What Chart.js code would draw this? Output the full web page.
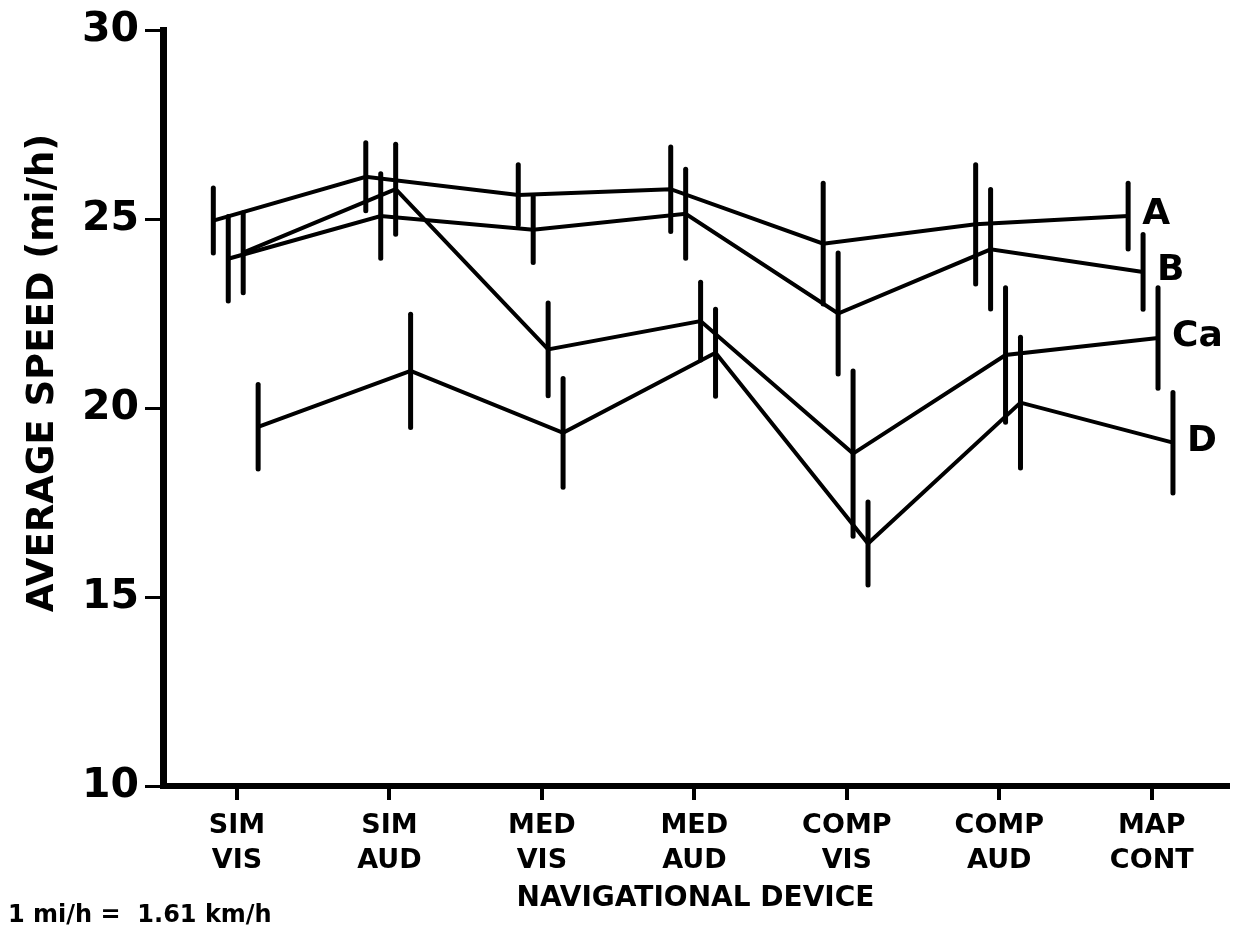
<!DOCTYPE html>
<html>
<head>
<meta charset="utf-8">
<script src="https://cdn.jsdelivr.net/npm/chart.js@4/dist/chart.umd.min.js"></script>
<style>
  html, body { margin: 0; padding: 0; background: #fff; }
  #wrap { width: 1235px; height: 927px; position: relative; }
</style>
</head>
<body>
<div id="wrap"><canvas id="c"></canvas></div>
<script>
// ---- data ----
const categoriesTop    = ['SIM', 'SIM', 'MED', 'MED', 'COMP', 'COMP', 'MAP'];
const categoriesBottom = ['VIS', 'AUD', 'VIS', 'AUD', 'VIS', 'AUD', 'CONT'];
const seriesNames = ['A', 'B', 'Ca', 'D'];

const speedA  = [24.97, 26.13, 25.65, 25.80, 24.36, 24.87, 25.09];
const errA    = [0.86, 0.90, 0.80, 1.12, 1.60, 1.58, 0.87];
const speedB  = [23.96, 25.09, 24.73, 25.15, 22.51, 24.21, 23.61];
const errB    = [1.12, 1.12, 0.87, 1.18, 1.60, 1.58, 0.99];
const speedCa = [24.12, 25.80, 21.56, 22.31, 18.80, 21.41, 21.86];
const errCa   = [1.06, 1.19, 1.23, 1.03, 2.19, 1.78, 1.33];
const speedD  = [19.51, 20.99, 19.35, 21.47, 16.42, 20.15, 19.09];
const errD    = [1.12, 1.50, 1.44, 1.15, 1.10, 1.73, 1.33];

const yTickValues = [10, 15, 20, 25, 30];
const yAxisTitle = 'AVERAGE SPEED (mi/h)';
const xAxisTitle = 'NAVIGATIONAL DEVICE';
const footnote = '1 mi/h =  1.61 km/h';

// ---- presentation ----
const seriesValues = [speedA, speedB, speedCa, speedD];
const seriesErrors = [errA, errB, errCa, errD];
const seriesOffset = [-0.155, -0.057, 0.041, 0.139]; // horizontal stagger (category units)
const FONT = "'DejaVu Sans', 'Liberation Sans', sans-serif";

const datasets = seriesValues.map((vals, k) => ({
  label: seriesNames[k],
  data: vals.map((v, i) => ({ x: i + seriesOffset[k], y: v })),
  showLine: true,
  borderColor: '#000',
  backgroundColor: '#000',
  borderWidth: 4,
  pointRadius: 0,
  pointHoverRadius: 0,
  tension: 0,
  errors: seriesErrors[k]
}));

const extrasPlugin = {
  id: 'extras',
  afterDatasetsDraw(chart) {
    const ctx = chart.ctx;
    const xs = chart.scales.x, ys = chart.scales.y;
    ctx.save();
    ctx.strokeStyle = '#000';
    ctx.lineWidth = 5;
    ctx.lineCap = 'round';
    chart.data.datasets.forEach((ds) => {
      ds.data.forEach((p, i) => {
        const e = ds.errors[i];
        const px = xs.getPixelForValue(p.x);
        ctx.beginPath();
        ctx.moveTo(px, ys.getPixelForValue(p.y - e));
        ctx.lineTo(px, ys.getPixelForValue(p.y + e));
        ctx.stroke();
      });
      // series label at the end of the line
      const last = ds.data[ds.data.length - 1];
      ctx.fillStyle = '#000';
      ctx.font = 'bold 36px ' + FONT;
      ctx.textAlign = 'left';
      ctx.textBaseline = 'middle';
      ctx.fillText(ds.label, xs.getPixelForValue(last.x) + 14, ys.getPixelForValue(last.y) - 1);
    });
    // y-axis title (rotated)
    ctx.save();
    ctx.translate(43, 373);
    ctx.rotate(-Math.PI / 2);
    ctx.font = 'bold 37px ' + FONT;
    ctx.textAlign = 'center';
    ctx.textBaseline = 'middle';
    ctx.fillText(yAxisTitle, 0, 0);
    ctx.restore();
    // footnote
    ctx.font = 'bold 24px ' + FONT;
    ctx.textAlign = 'left';
    ctx.textBaseline = 'alphabetic';
    ctx.fillText(footnote, 8, 922);
    ctx.restore();
  }
};

new Chart(document.getElementById('c'), {
  type: 'scatter',
  data: { datasets },
  options: {
    responsive: true,
    maintainAspectRatio: false,
    animation: false,
    events: [],
    layout: { padding: { left: 0, top: 29, right: 7, bottom: 0 } },
    plugins: { legend: { display: false }, tooltip: { enabled: false } },
    scales: {
      x: {
        type: 'linear',
        min: -0.485,
        max: 6.5,
        afterFit(scale) { scale.height = 141; },
        afterBuildTicks(scale) { scale.ticks = categoriesTop.map((_, i) => ({ value: i })); },
        border: { display: true, color: '#000', width: 6 },
        grid: { drawOnChartArea: false, drawTicks: true, tickLength: 14, lineWidth: 4, color: '#000' },
        ticks: {
          autoSkip: false, maxRotation: 0, minRotation: 0,
          padding: 8,
          color: '#000',
          font: { family: FONT, size: 27, weight: 'bold', lineHeight: 1.3 },
          callback: (v, idx) => [categoriesTop[idx], categoriesBottom[idx]]
        },
        title: {
          display: true, text: xAxisTitle, color: '#000',
          font: { family: FONT, size: 28, weight: 'bold', lineHeight: 1.2 },
          padding: { top: 0, bottom: 11 }
        }
      },
      y: {
        min: 10,
        max: 30,
        afterFit(scale) { scale.width = 163; },
        afterBuildTicks(scale) { scale.ticks = yTickValues.map(v => ({ value: v })); },
        border: { display: true, color: '#000', width: 7 },
        grid: { drawOnChartArea: false, drawTicks: true, tickLength: 18, lineWidth: 3, color: '#000' },
        ticks: {
          padding: 6,
          color: '#000',
          font: { family: FONT, size: 41, weight: 'bold' }
        },
        title: { display: false }
      }
    }
  },
  plugins: [extrasPlugin]
});
</script>
</body>
</html>
